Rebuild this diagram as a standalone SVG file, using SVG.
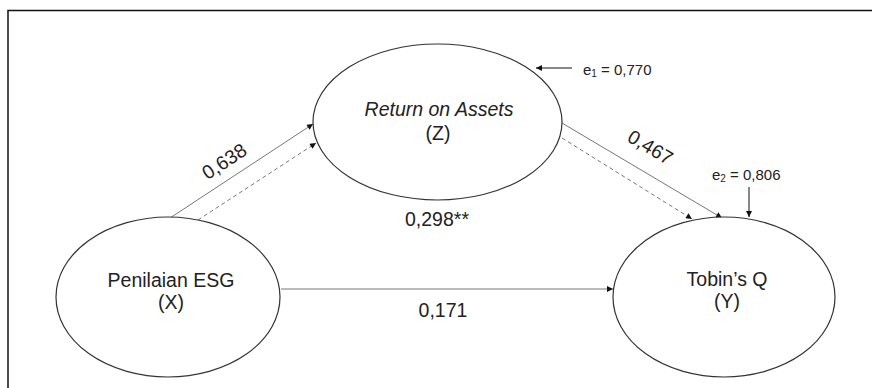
<svg xmlns="http://www.w3.org/2000/svg" width="872" height="388" viewBox="0 0 872 388">
<defs>
<marker id="ah" viewBox="0 0 10 10" refX="10" refY="5" markerWidth="7" markerHeight="6" markerUnits="userSpaceOnUse" orient="auto">
<path d="M0,0 L10,5 L0,10 Z" fill="#111"/>
</marker>
<style>
.node{fill:#fff;stroke:#333;stroke-width:1.2}
.lbl{font-family:"Liberation Sans",Arial,sans-serif;font-size:19.5px;fill:#222;text-anchor:middle}
.sm{font-family:"Liberation Sans",Arial,sans-serif;font-size:15px;fill:#222}
.conn{fill:none;stroke:#777;stroke-width:1}
.dash{fill:none;stroke:#777;stroke-width:1;stroke-dasharray:4 3}
.err{fill:none;stroke:#111;stroke-width:1}
</style>
</defs>
<rect width="872" height="388" fill="#fff"/>
<path d="M8,400 L8,10.5 L880,10.5" fill="none" stroke="#111" stroke-width="1.5"/>
<g id="connectors">
<line class="conn" x1="170" y1="218" x2="313" y2="124" marker-end="url(#ah)"/>
<line class="dash" x1="198" y1="220" x2="316" y2="143" marker-end="url(#ah)"/>
<line class="conn" x1="562" y1="123" x2="722" y2="218" marker-end="url(#ah)"/>
<line class="dash" x1="562" y1="138" x2="692" y2="219" marker-end="url(#ah)"/>
<line class="conn" x1="281" y1="289" x2="613" y2="289" marker-end="url(#ah)"/>
<line class="err" x1="572" y1="68" x2="536" y2="68" marker-end="url(#ah)"/>
<line class="err" x1="749" y1="187" x2="749" y2="217" marker-end="url(#ah)"/>
<text class="lbl" transform="translate(228,167) rotate(-33)">0,638</text>
<text class="lbl" transform="translate(647,153) rotate(31)">0,467</text>
<text class="lbl" x="437" y="226">0,298**</text>
<text class="lbl" x="443" y="317">0,171</text>
<text class="sm" x="583" y="75">e<tspan font-size="10" dy="2">1</tspan><tspan dy="-2"> = 0,770</tspan></text>
<text class="sm" x="712" y="180">e<tspan font-size="10" dy="2">2</tspan><tspan dy="-2"> = 0,806</tspan></text>
</g>
<g id="node-z">
<ellipse class="node" cx="437.5" cy="122" rx="124.5" ry="78"/>
<text class="lbl" x="439" y="116" font-style="italic">Return on Assets</text>
<text class="lbl" x="438" y="140">(Z)</text>
</g>
<g id="node-x">
<ellipse class="node" cx="168" cy="297" rx="112" ry="80"/>
<text class="lbl" x="171" y="287">Penilaian ESG</text>
<text class="lbl" x="171" y="309">(X)</text>
</g>
<g id="node-y">
<ellipse class="node" cx="724" cy="297" rx="111" ry="80"/>
<text class="lbl" x="727" y="286">Tobin’s Q</text>
<text class="lbl" x="727" y="308">(Y)</text>
</g>
</svg>
